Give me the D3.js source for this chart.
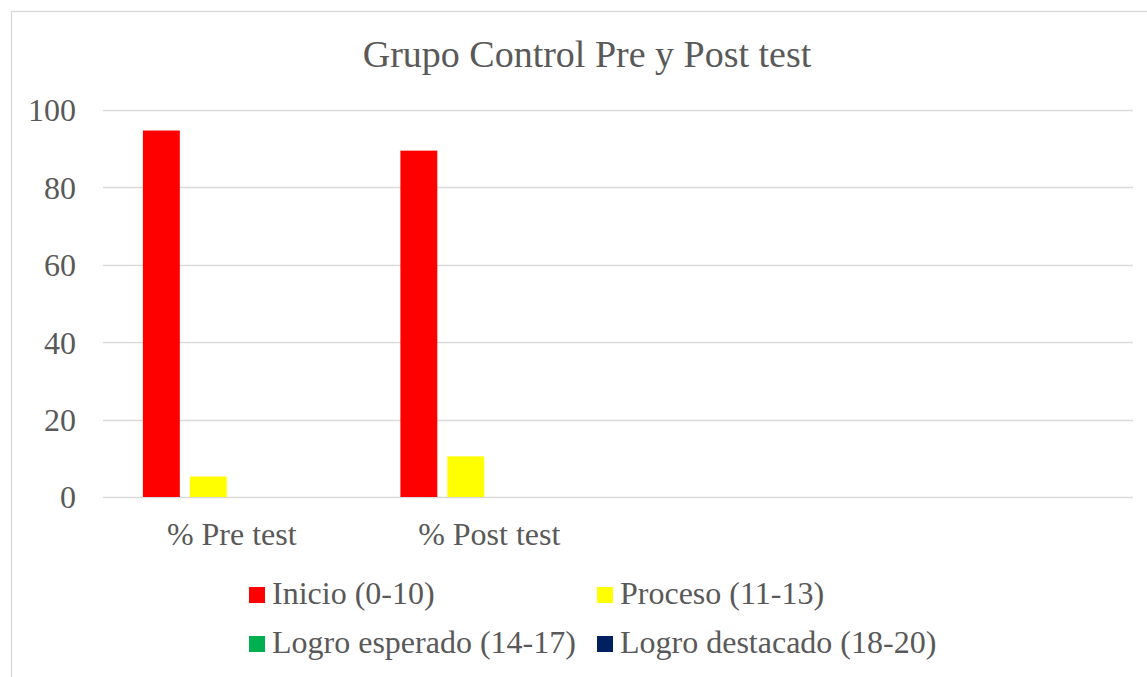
<!DOCTYPE html>
<html>
<head>
<meta charset="utf-8">
<script src="https://cdn.jsdelivr.net/npm/d3@7"></script>
<style>
  body { margin: 0; background: #fff; }
</style>
</head>
<body>
<div id="chart"></div>
<script>
// data
const categories = ["% Pre test", "% Post test", "", ""];
const seriesNames = ["Inicio (0-10)", "Proceso (11-13)", "Logro esperado (14-17)", "Logro destacado (18-20)"];
const seriesColors = ["#FF0000", "#FFFF00", "#00B050", "#002060"];
const inicio = [94.7, 89.5, null, null];
const proceso = [5.3, 10.5, null, null];
const logroEsperado = [0, 0, null, null];
const logroDestacado = [0, 0, null, null];
const yTicks = [0, 20, 40, 60, 80, 100];

const allSeries = [inicio, proceso, logroEsperado, logroDestacado];

const FONT = '"Liberation Serif"';
const TEXT = "#595959";

const W = 1147, H = 677;
const plot = { left: 103, right: 1133, top: 110, bottom: 497 };

const svg = d3.select("#chart").append("svg")
  .attr("width", W)
  .attr("height", H);

// chart border (right and bottom edges fall outside the picture)
svg.append("rect")
  .attr("x", 11.5).attr("y", 11.5)
  .attr("width", W).attr("height", H)
  .attr("fill", "none")
  .attr("stroke", "#d9d9d9")
  .attr("stroke-width", 1.3);

svg.append("text")
  .attr("x", 587).attr("y", 67)
  .attr("text-anchor", "middle")
  .style("font-family", FONT)
  .style("font-size", "38px")
  .style("fill", TEXT)
  .text("Grupo Control Pre y Post test");

const x0 = d3.scaleBand()
  .domain(d3.range(categories.length))
  .range([plot.left, plot.right])
  .padding(0);

const x1 = d3.scaleBand()
  .domain(d3.range(seriesNames.length))
  .range([0, x0.bandwidth()])
  .paddingInner(0.213)
  .paddingOuter(0.85);

const y = d3.scaleLinear()
  .domain([0, 100])
  .range([plot.bottom, plot.top]);

// gridlines
svg.append("g")
  .selectAll("line")
  .data(yTicks)
  .join("line")
  .attr("x1", plot.left).attr("x2", plot.right)
  .attr("y1", d => Math.round(y(d)) + 0.5)
  .attr("y2", d => Math.round(y(d)) + 0.5)
  .attr("stroke", "#d9d9d9")
  .attr("stroke-width", 1.3);

// y axis labels
const yAxis = svg.append("g")
  .attr("transform", `translate(${plot.left},0)`)
  .call(d3.axisLeft(y).tickValues(yTicks).tickSize(0).tickPadding(27));
yAxis.attr("font-family", null);
yAxis.select(".domain").remove();
yAxis.selectAll("text")
  .attr("dy", "0.34em")
  .style("font-family", FONT)
  .style("font-size", "32px")
  .style("fill", TEXT);

// x axis labels
const xAxis = svg.append("g")
  .attr("transform", `translate(0,${plot.bottom})`)
  .call(d3.axisBottom(x0).tickFormat(i => categories[i]).tickSize(0).tickPadding(0));
xAxis.attr("font-family", null);
xAxis.select(".domain").remove();
xAxis.selectAll("text")
  .attr("y", 48).attr("dy", null)
  .style("font-family", FONT)
  .style("font-size", "32px")
  .style("fill", TEXT);

// bars
const groups = svg.append("g")
  .selectAll("g")
  .data(categories.map((c, i) => i))
  .join("g")
  .attr("transform", i => `translate(${x0(i)},0)`);

groups.selectAll("rect")
  .data(i => allSeries.map((s, k) => ({ k, v: s[i] })).filter(d => d.v != null && d.v > 0))
  .join("rect")
  .attr("x", d => x1(d.k))
  .attr("y", d => y(d.v))
  .attr("width", x1.bandwidth())
  .attr("height", d => y(0) - y(d.v))
  .attr("fill", d => seriesColors[d.k]);

// legend
const legendPos = [
  { x: 249, y: 604 }, { x: 597, y: 604 },
  { x: 249, y: 653 }, { x: 597, y: 653 }
];
const legend = svg.append("g")
  .selectAll("g")
  .data(seriesNames)
  .join("g")
  .attr("transform", (d, i) => `translate(${legendPos[i].x},${legendPos[i].y})`);

legend.append("rect")
  .attr("x", 0).attr("y", -17)
  .attr("width", 16).attr("height", 16)
  .attr("fill", (d, i) => seriesColors[i]);

legend.append("text")
  .attr("x", 23).attr("y", 0)
  .style("font-family", FONT)
  .style("font-size", "32px")
  .style("fill", TEXT)
  .text(d => d);
</script>
</body>
</html>
